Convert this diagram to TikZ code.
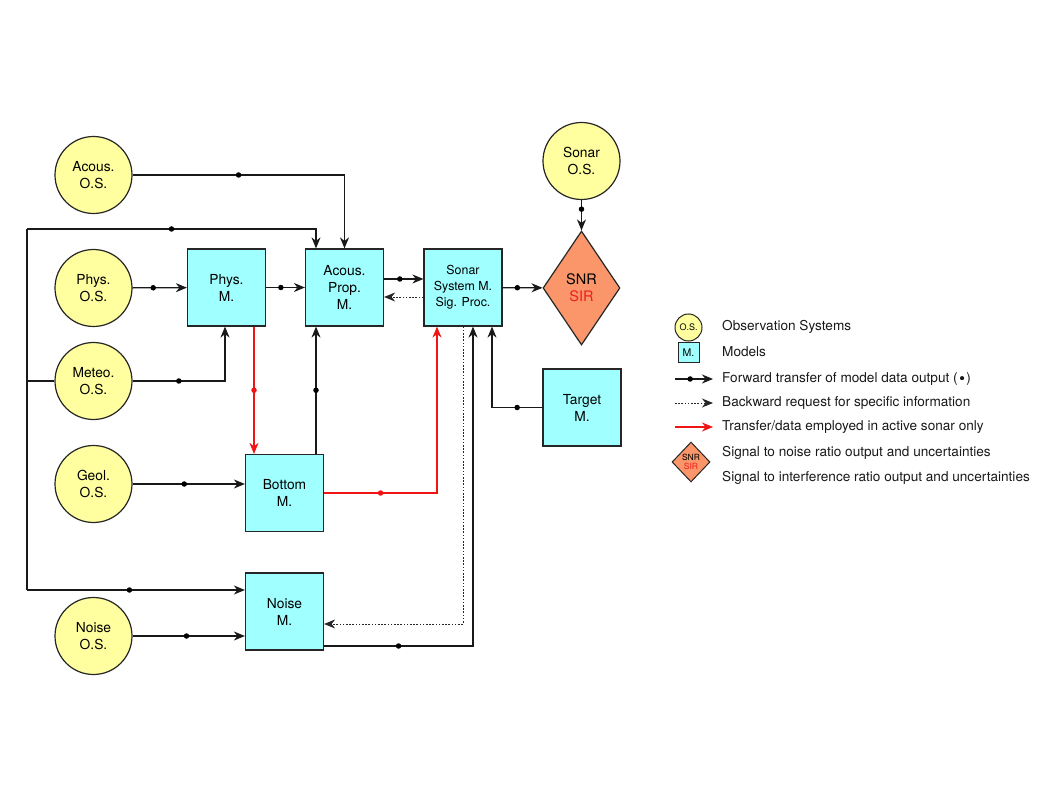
\documentclass[tikz,border=0pt]{standalone}
\usepackage{fontspec}
\setmainfont{TeX Gyre Heros}
\usetikzlibrary{arrows.meta,shapes.geometric}
\definecolor{osyellow}{RGB}{255,255,160}
\definecolor{mcyan}{RGB}{160,255,255}
\definecolor{snrorange}{RGB}{250,150,105}
\definecolor{sirred}{RGB}{240,30,30}
\definecolor{arrred}{RGB}{240,20,20}
\begin{document}
\begin{tikzpicture}[x=1pt,y=-1pt,
  os/.style={circle,draw=black!85,fill=osyellow,line width=1.2pt,minimum size=77pt,inner sep=0pt,align=center,font=\fontsize{13.8}{17}\selectfont},
  model/.style={rectangle,draw=black!85,fill=mcyan,line width=1.2pt,minimum width=78pt,minimum height=77pt,inner sep=0pt,align=center,font=\fontsize{13.8}{17}\selectfont},
  snrnode/.style={diamond,draw=black!85,fill=snrorange,line width=1.2pt,minimum width=77pt,minimum height=114pt,inner sep=0pt,align=center,font=\fontsize{14.5}{17}\selectfont},
  ln/.style={line width=1.3pt,draw=black!90},
  fw/.style={ln,-{Stealth[length=11pt,width=9pt,inset=3.5pt]}},
  bw/.style={line width=0.9pt,draw=black!85,dash pattern=on 1.6pt off 1.6pt,-{Stealth[length=11pt,width=9pt,inset=3.5pt,sep=0pt,line width=0.9pt]}},
  rd/.style={line width=1.3pt,draw=arrred,-{Stealth[length=11pt,width=9pt,inset=3.5pt]}},
  dot/.style={circle,fill=black,inner sep=0pt,minimum size=5.5pt},
  rdot/.style={circle,fill=arrred,inner sep=0pt,minimum size=5.5pt},
  lgtext/.style={anchor=west,inner sep=0pt,font=\fontsize{13.6}{16}\selectfont,text=black!90}
]
\path[use as bounding box] (0,0) rectangle (1058,794);

% observation systems
\node[os] (acos) at (93.5,175) {Acous.\\O.S.};
\node[os] (physos) at (93.5,288) {Phys.\\O.S.};
\node[os] (meteo) at (93.5,381) {Meteo.\\O.S.};
\node[os] (geol) at (93.5,484) {Geol.\\O.S.};
\node[os] (noiseos) at (93.5,636) {Noise\\O.S.};
\node[os] (sonaros) at (581.5,161) {Sonar\\O.S.};

% models
\node[model] (physm) at (226.5,287.5) {Phys.\\M.};
\node[model] (acp) at (344.5,287.5) {Acous.\\Prop.\\M.};
\node[model,font=\fontsize{12.4}{16}\selectfont] (sonar) at (463,287.5) {Sonar\\System M.\\Sig. Proc.};
\node[snrnode] (snr) at (581.5,288) {SNR\\\textcolor{sirred}{SIR}};
\node[model] (target) at (582,407.5) {Target\\M.};
\node[model] (bottomm) at (284.5,493) {Bottom\\M.};
\node[model] (noisem) at (284.5,611.5) {Noise\\M.};

% bus on the left
\coordinate (busT) at (27,229);
\coordinate (busB) at (27,590);
\draw[ln] (busB) -- (busT);
\draw[ln] (meteo.west) -- (meteo.west -| busT);
\draw[fw] (busT) -| node[dot,pos=0.25]{} ([xshift=-28.5pt]acp.north);
\draw[fw] (busB) -- node[dot,pos=0.47]{} (busB -| noisem.west);

% forward transfers
\draw[fw] (acos.east) -| node[dot,pos=0.25]{} (acp.north);
\draw[fw] (physos) -- node[dot,pos=0.38]{} (physm);
\draw[fw] (physm) -- node[dot,pos=0.38]{} (acp);
\draw[fw] (meteo.east) -| node[dot,pos=0.25]{} ([xshift=-1.5pt]physm.south);
\draw[fw] (geol.east) -- node[dot,pos=0.46]{} (geol.east -| bottomm.west);
\draw[fw] (noiseos.east) -- node[dot,pos=0.48]{} (noiseos.east -| noisem.west);
\draw[fw] ([xshift=31.5pt]bottomm.north) -- node[dot,pos=0.5]{} ([xshift=31.5pt]bottomm.north |- acp.south);
\draw[fw] ([yshift=8.5pt]acp.east) -- node[dot,pos=0.4]{} ([yshift=8.5pt]acp.east -| sonar.west);
\draw[bw] ([yshift=-9.5pt]sonar.west) -- ([yshift=-9.5pt]sonar.west -| acp.east);
\draw[fw] (sonar) -- node[dot,pos=0.37]{} (snr);
\draw[fw] (sonaros) -- node[dot,pos=0.3]{} (snr);
\draw[fw] (target.west) -| node[dot,pos=0.25]{} ([xshift=29pt]sonar.south);
\draw[fw] ([yshift=-34.5pt]noisem.east) -| node[dot,pos=0.25]{} ([xshift=10pt]sonar.south);
\draw[bw] (sonar.south) |- ([yshift=-12.5pt]noisem.east);

% active sonar only
\draw[rd] ([xshift=27.5pt]physm.south) -- node[rdot,pos=0.5]{} ([xshift=27.5pt]physm.south |- bottomm.north);
\draw[rd] (bottomm.east) -| node[rdot,pos=0.25]{} ([xshift=-26pt]sonar.south);

% legend
\node[os,minimum size=27pt,line width=1pt,font=\fontsize{9}{10}\selectfont] (lgos) at (688.5,327.5) {O.S.};
\node[model,minimum width=21pt,minimum height=20pt,line width=1pt,font=\fontsize{10.5}{12}\selectfont] (lgm) at (688.5,353) {M.};
\node[snrnode,minimum width=38pt,minimum height=40pt,line width=1pt,font=\fontsize{8.5}{9}\selectfont] (lgsnr) at (691,462) {SNR\\\textcolor{sirred}{SIR}};
\coordinate (lf1) at (675,379); \coordinate (lf2) at (713,379);
\coordinate (lb1) at (675,403); \coordinate (lb2) at (713,403);
\coordinate (lr1) at (675,427); \coordinate (lr2) at (713,427);
\draw[fw] (lf1) -- node[dot,pos=0.4]{} (lf2);
\draw[bw] (lb1) -- (lb2);
\draw[rd] (lr1) -- (lr2);
\node[lgtext] (t1) at (722,327) {Observation Systems};
\node[lgtext] (t2) at (722,352) {Models};
\node[lgtext] (t3) at (722,379) {Forward transfer of model data output (\,\raisebox{0.32ex}{\tikz\fill (0,0) circle (2.1pt);}\,)};
\node[lgtext] (t4) at (722,403) {Backward request for specific information};
\node[lgtext] (t5) at (722,427) {Transfer/data employed in active sonar only};
\node[lgtext] (t6) at (722,453) {Signal to noise ratio output and uncertainties};
\node[lgtext] (t7) at (722,478) {Signal to interference ratio output and uncertainties};
\end{tikzpicture}
\end{document}
